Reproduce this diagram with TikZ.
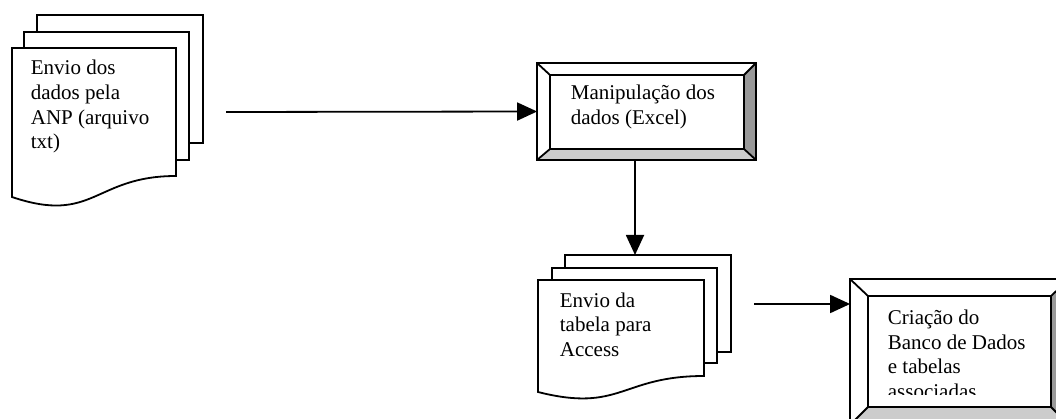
\documentclass[tikz,border=0pt]{standalone}
\usepackage{fontspec}
\setmainfont{Liberation Serif}
\usetikzlibrary{arrows.meta,calc}
\definecolor{bevdark}{HTML}{999999}
\definecolor{bevlight}{HTML}{CCCCCC}
\newcommand\bevelbox[2]{%
  \fill[white] (#1.north west) rectangle (#1.south east);
  \fill[bevdark] (#1.north east) -- (#2.north east) -- (#2.south east) -- (#1.south east) -- cycle;
  \fill[bevlight] (#1.south west) -- (#2.south west) -- (#2.south east) -- (#1.south east) -- cycle;
  \draw (#1.north west) rectangle (#1.south east);
  \draw (#2.north west) rectangle (#2.south east);
  \draw (#1.north west) -- (#2.north west);
  \draw (#1.north east) -- (#2.north east);
  \draw (#1.south west) -- (#2.south west);
  \draw (#1.south east) -- (#2.south east);
}
\begin{document}
\begin{tikzpicture}[x=1pt,y=-1pt,line width=1.8pt,
  lbl/.style={font=\fontsize{21}{24.6}\selectfont, align=left, inner sep=0pt, anchor=base west},
  arr/.style={-{Triangle[length=20pt,width=18pt]}, line width=1.8pt},
  page/.style={draw, fill=white, line width=1.8pt, line join=miter},
  boxshape/.style={draw=none, inner sep=0pt, rectangle}]
\clip (0,0) rectangle (1056,419);
\fill[white] (0,0) rectangle (1056,419);

% stack 1
\draw[page] (37,15) rectangle (203,143);
\draw[page] (24,32) rectangle (189,160);
\draw[page] (12,48) -- (176,48) -- (176,176) .. controls (94,176) and (94,224.7) .. (12,197) -- cycle;
\node[lbl] (t1) at (30,148.8) {Envio dos\\dados pela\\ANP (arquivo\\txt)};

% box 1
\node[boxshape, minimum width=217pt, minimum height=95pt] (b1) at (646.5,111.5) {};
\node[boxshape, minimum width=192pt, minimum height=72pt] (b1in) at (647,112) {};
\bevelbox{b1}{b1in}
\node[lbl] (t2) at (570,124.6) {Manipulação dos\\dados (Excel)};

% stack 2
\draw[page] (565,255) rectangle (731,352);
\draw[page] (552,268) rectangle (717,363);
\draw[page] (538,280) -- (704,280) -- (704,376) .. controls (621,376) and (621,413) .. (538,392) -- cycle;
\node[lbl] (t3) at (559,356.2) {Envio da\\tabela para\\Access};

% box 2
\node[boxshape, minimum width=217pt, minimum height=144pt] (b2) at (959.5,352) {};
\node[boxshape, minimum width=181pt, minimum height=109pt] (b2in) at (959.5,351.5) {};
\bevelbox{b2}{b2in}
\begin{scope}
\clip (870,298) rectangle (1049,394);
\node[lbl] (t4) at (887,398.3) {Criação do\\Banco de Dados\\e tabelas\\associadas};
\end{scope}

% connectors
\coordinate (a1s) at (226,112);
\draw[arr] (a1s) -- (b1.west);
\coordinate (v) at (635,0);
\coordinate (d2top) at (635,255);
\draw[arr] (b1.south -| v) -- (d2top);
\coordinate (a2s) at (754,304);
\draw[arr] (a2s) -- (a2s -| b2.west);
\end{tikzpicture}
\end{document}
